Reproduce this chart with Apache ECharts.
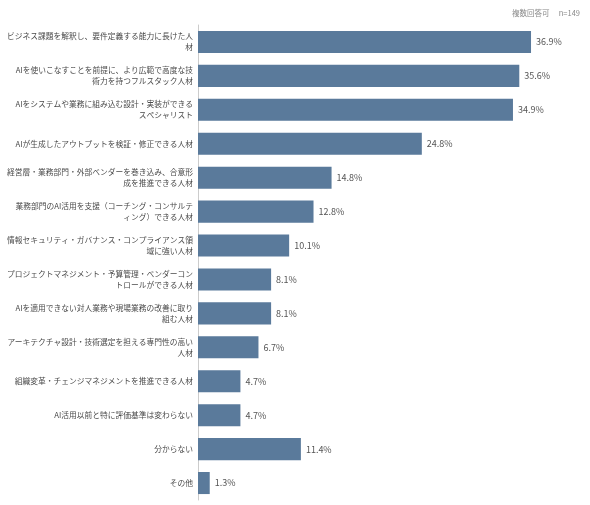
<!DOCTYPE html>
<html>
<head>
<meta charset="utf-8">
<script src="https://cdn.jsdelivr.net/npm/echarts@6/dist/echarts.min.js"></script>
<style>
  html, body { margin: 0; padding: 0; background: #fff; }
  #main { width: 590px; height: 505px; }
</style>
</head>
<body>
<div id="main"></div>
<script>
// 項目（改行は元画像の折り返し位置）
var categories = [
  'ビジネス課題を解釈し、要件定義する能力に長けた人\n材',
  'AIを使いこなすことを前提に、より広範で高度な技\n術力を持つフルスタック人材',
  'AIをシステムや業務に組み込む設計・実装ができる\nスペシャリスト',
  'AIが生成したアウトプットを検証・修正できる人材',
  '経営層・業務部門・外部ベンダーを巻き込み、合意形\n成を推進できる人材',
  '業務部門のAI活用を支援（コーチング・コンサルテ\nィング）できる人材',
  '情報セキュリティ・ガバナンス・コンプライアンス領\n域に強い人材',
  'プロジェクトマネジメント・予算管理・ベンダーコン\nトロールができる人材',
  'AIを適用できない対人業務や現場業務の改善に取り\n組む人材',
  'アーキテクチャ設計・技術選定を担える専門性の高い\n人材',
  '組織変革・チェンジマネジメントを推進できる人材',
  'AI活用以前と特に評価基準は変わらない',
  '分からない',
  'その他'
];
// 回答率（%）
var values = [36.9, 35.6, 34.9, 24.8, 14.8, 12.8, 10.1, 8.1, 8.1, 6.7, 4.7, 4.7, 11.4, 1.3];
var note = '複数回答可　 n=149';

var myChart = echarts.init(document.getElementById('main'));
var font = '"Noto Sans CJK JP", "Noto Sans", sans-serif';

var option = {
  animation: false,
  textStyle: { fontFamily: font },
  title: {
    text: note,
    right: 5,
    top: 4,
    textStyle: { fontSize: 7.5, fontWeight: 'normal', color: '#888', fontFamily: font }
  },
  grid: { left: 198, right: 31, top: 25, bottom: 5, containLabel: false },
  xAxis: {
    type: 'value',
    min: 0,
    max: 40,
    show: false
  },
  yAxis: {
    type: 'category',
    inverse: true,
    data: categories,
    axisTick: { show: false },
    axisLine: { lineStyle: { color: '#ccc', width: 1 } },
    axisLabel: {
      fontSize: 7.75,
      lineHeight: 11,
      color: '#4a4a4a',
      margin: 5,
      align: 'right'
    }
  },
  series: [
    {
      type: 'bar',
      data: values,
      barWidth: '65%',
      itemStyle: { color: '#5a7a9b' },
      label: {
        show: true,
        position: 'right',
        distance: 5,
        fontSize: 9,
        color: '#555',
        formatter: function (p) { return p.value.toFixed(1) + '%'; }
      }
    }
  ]
};
myChart.setOption(option, true);
</script>
</body>
</html>
